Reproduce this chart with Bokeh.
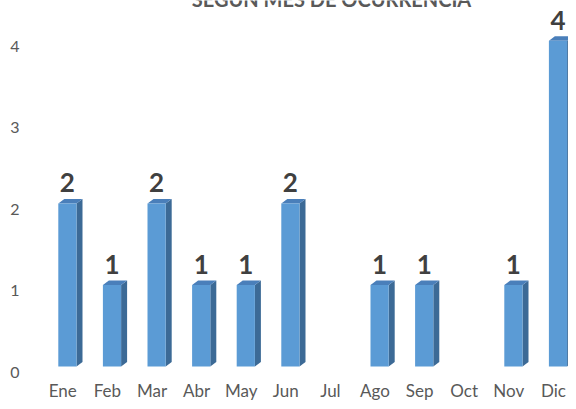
from bokeh.plotting import figure
from bokeh.models import Range1d, ColumnDataSource
from bokeh.core.properties import value
from bokeh.embed import file_html
from bokeh.resources import INLINE

# ---- data ----
months = ["Ene", "Feb", "Mar", "Abr", "May", "Jun", "Jul", "Ago", "Sep", "Oct", "Nov", "Dic"]
counts = [2, 1, 2, 1, 1, 2, 0, 1, 1, 0, 1, 4]
y_ticks = [0, 1, 2, 3, 4]
title_text = "SEGÚN MES DE OCURRENCIA"

# ---- style / geometry (pixels converted to data units) ----
PX_X = 44.6    # pixels per category
PX_Y = 81.45   # pixels per unit
W, H = 568, 401
X0_PX = 62.3   # canvas x of first category centre
Y0_PX = 371.5  # canvas y of value 0

front_l = -4.5 / PX_X
front_r = front_l + 18.2 / PX_X
dx = 6.0 / PX_X
dy = 4.5 / PX_Y
y_off = 5.5 / PX_Y

FRONT = "#5B9BD5"
SIDE = "#3C6A96"
TOP = "#4A7FBA"
LABEL = "#404040"
TICK = "#595959"
FONT = value("Lato")

p = figure(width=W, height=H,
           x_range=Range1d(-X0_PX / PX_X, (W - X0_PX) / PX_X),
           y_range=Range1d(-(H - Y0_PX) / PX_Y, Y0_PX / PX_Y),
           output_backend="svg", toolbar_location=None,
           x_axis_location=None, y_axis_location=None,
           min_border=0, outline_line_color=None)
p.grid.visible = False
p.background_fill_color = "white"
p.border_fill_color = "white"

idx = [i for i, v in enumerate(counts) if v > 0]
vals = [counts[i] for i in idx]

left = [i + front_l for i in idx]
right = [i + front_r for i in idx]
bottom = [y_off] * len(idx)
top = [v + y_off for v in vals]

# side faces
side_xs = [[r, r + dx, r + dx, r] for r in right]
side_ys = [[y_off, y_off + dy, t + dy, t] for t in top]
p.patches(side_xs, side_ys, fill_color=SIDE, line_color=None)

# top faces
top_xs = [[l, l + dx, r + dx, r] for l, r in zip(left, right)]
top_ys = [[t, t + dy, t + dy, t] for t in top]
p.patches(top_xs, top_ys, fill_color=TOP, line_color=None)

# front faces
p.quad(left=left, right=right, bottom=bottom, top=top, fill_color=FRONT, line_color=None)

# value labels
lab_src = ColumnDataSource(dict(
    x=[i + (front_l + front_r) / 2 for i in idx],
    y=[t + 20.7 / PX_Y for t in top],
    text=[str(v) for v in vals]))
p.text(x="x", y="y", text="text", source=lab_src,
       text_font=FONT, text_font_style="bold",
       text_font_size="26px", text_color=LABEL,
       text_align="center", text_baseline="middle")

# y tick labels
ytick_src = ColumnDataSource(dict(
    x=[(14.3 - X0_PX) / PX_X] * len(y_ticks),
    y=y_ticks,
    text=[str(t) for t in y_ticks]))
p.text(x="x", y="y", text="text", source=ytick_src,
       text_font=FONT, text_font_size="16px", text_color=TICK,
       text_align="center", text_baseline="middle")

# x category labels
xcat_src = ColumnDataSource(dict(
    x=list(range(len(months))),
    y=[(Y0_PX - 390.0) / PX_Y] * len(months),
    text=months))
p.text(x="x", y="y", text="text", source=xcat_src,
       text_font=FONT, text_font_size="17px", text_color=TICK,
       text_align="center", text_baseline="middle")

# title (cut at the top edge as in the reference)
p.text(x=[(331 - X0_PX) / PX_X], y=[(Y0_PX + 1.5) / PX_Y], text=[title_text],
       text_font=FONT, text_font_style="bold",
       text_font_size="20px", text_color=TICK,
       text_align="center", text_baseline="middle")

open("out.html", "w").write(file_html(p, INLINE))
